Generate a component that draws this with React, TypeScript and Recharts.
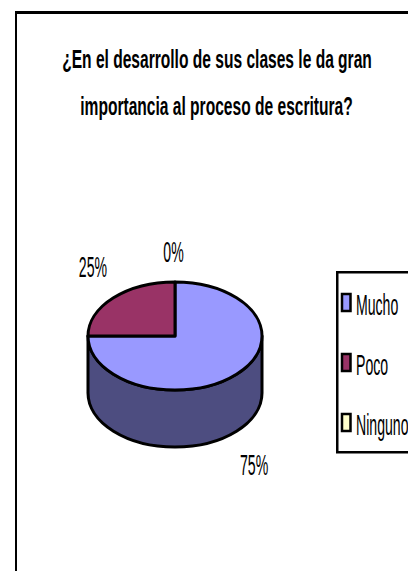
import * as React from 'react';
import { PieChart, Pie, Legend } from 'recharts';

// Values
const categories = ['Mucho', 'Poco', 'Ninguno'];
const percents = [75, 25, 0];
const colors = ['#9999FF', '#993366', '#FFFFCC'];
const titleLines = [
  '¿En el desarrollo de sus clases le da gran',
  'importancia al proceso de escritura?',
];

const data = categories.map((name, i) => ({ name, value: percents[i], fill: colors[i] }));

const WIDTH = 408;
const HEIGHT = 571;
const FONT = '"Liberation Sans", Arial, sans-serif';
const TILT = 54 / 87;   // flatten the pie into an ellipse
const DEPTH = 57;       // height of the cylinder wall
const WALL = '#4D4D80';
const SQUEEZE = 0.47;   // the source image is horizontally squashed
const TITLE_SQUEEZE = 0.623;

const rad = (a: number) => (a * Math.PI) / 180;

function PieSlice3D(props: any) {
  const { cx, cy, outerRadius: rx, startAngle, endAngle, fill } = props;
  if (startAngle === endAngle) return null;
  const ry = rx * TILT;
  const pt = (a: number, dy = 0) =>
    `${cx + rx * Math.cos(rad(a))} ${cy - ry * Math.sin(rad(a)) + dy}`;
  const large = Math.abs(startAngle - endAngle) > 180 ? 1 : 0;

  // the part of the slice that faces the viewer gets a wall
  const hi = Math.min(startAngle, 0);
  const lo = Math.max(endAngle, -180);
  const wall = hi > lo
    ? `M${pt(hi)} L${pt(hi, DEPTH)} A${rx} ${ry} 0 0 1 ${pt(lo, DEPTH)} L${pt(lo)} A${rx} ${ry} 0 0 0 ${pt(hi)} Z`
    : null;

  return (
    <g>
      {wall && <path d={wall} fill={WALL} stroke="#000" strokeWidth={3} strokeLinejoin="round" />}
      <path
        d={`M${cx} ${cy} L${pt(startAngle)} A${rx} ${ry} 0 ${large} 1 ${pt(endAngle)} Z`}
        fill={fill}
        stroke="#000"
        strokeWidth={3}
        strokeLinejoin="round"
      />
    </g>
  );
}

function SliceLabel({ cx, cy, midAngle, percent }: any) {
  const c = Math.cos(rad(midAngle));
  const s = Math.sin(rad(midAngle));
  const x = cx + c * 114 - 1.5;
  const below = s < 0;
  const y = cy - s * 50 + (below ? 34 + DEPTH + 3 : -34) + 10;
  return (
    <text
      transform={`translate(${x} ${y}) scale(${SQUEEZE} 1)`}
      textAnchor="middle"
      fontFamily={FONT}
      fontSize={30}
      fill="#000"
    >
      {`${Math.round(percent * 100)}%`}
    </text>
  );
}

function BoxLegend({ payload }: any) {
  return (
    <svg width={72} height={184} style={{ display: 'block', overflow: 'visible' }}>
      <rect x={1.25} y={1.25} width={90} height={180} fill="#fff" stroke="#000" strokeWidth={2.5} />
      {(payload ?? []).map((entry: any, i: number) => (
        <g key={entry.value}>
          <rect x={6} y={23 + i * 60} width={8.5} height={17} fill={entry.color} stroke="#000" strokeWidth={2.5} />
          <text
            transform={`translate(20 ${44 + i * 60}) scale(${SQUEEZE} 1)`}
            fontFamily={FONT}
            fontSize={30}
            fill="#000"
          >
            {entry.value}
          </text>
        </g>
      ))}
    </svg>
  );
}

export default function App() {
  return (
    <div style={{ position: 'absolute', left: 0, top: 0, width: WIDTH, height: HEIGHT, overflow: 'hidden', background: '#fff' }}>
      <div style={{ position: 'absolute', left: 15, top: 11, width: WIDTH, height: HEIGHT, borderLeft: '2px solid #000', borderTop: '3px solid #000' }} />
      <PieChart width={WIDTH} height={HEIGHT} margin={{ top: 0, right: 0, bottom: 0, left: 0 }} style={{ position: 'absolute', left: 0, top: 0 }}>
        <text transform={`translate(217 68) scale(${TITLE_SQUEEZE} 1)`} textAnchor="middle" fontFamily={FONT} fontWeight="bold" fontSize={25} fill="#000">
          {titleLines[0]}
        </text>
        <text transform={`translate(216.5 115) scale(${TITLE_SQUEEZE} 1)`} textAnchor="middle" fontFamily={FONT} fontWeight="bold" fontSize={25} fill="#000">
          {titleLines[1]}
        </text>
        <Legend
          content={<BoxLegend />}
          layout="vertical"
          itemSorter={null}
          wrapperStyle={{ position: 'absolute', left: 336, top: 271, width: 72, height: 184, margin: 0 }}
        />
        <Pie
          data={data}
          dataKey="value"
          nameKey="name"
          cx={175}
          cy={336}
          outerRadius={87}
          startAngle={90}
          endAngle={-270}
          shape={PieSlice3D}
          label={SliceLabel}
          labelLine={false}
          stroke="#000"
          isAnimationActive={false}
        />
      </PieChart>
    </div>
  );
}
